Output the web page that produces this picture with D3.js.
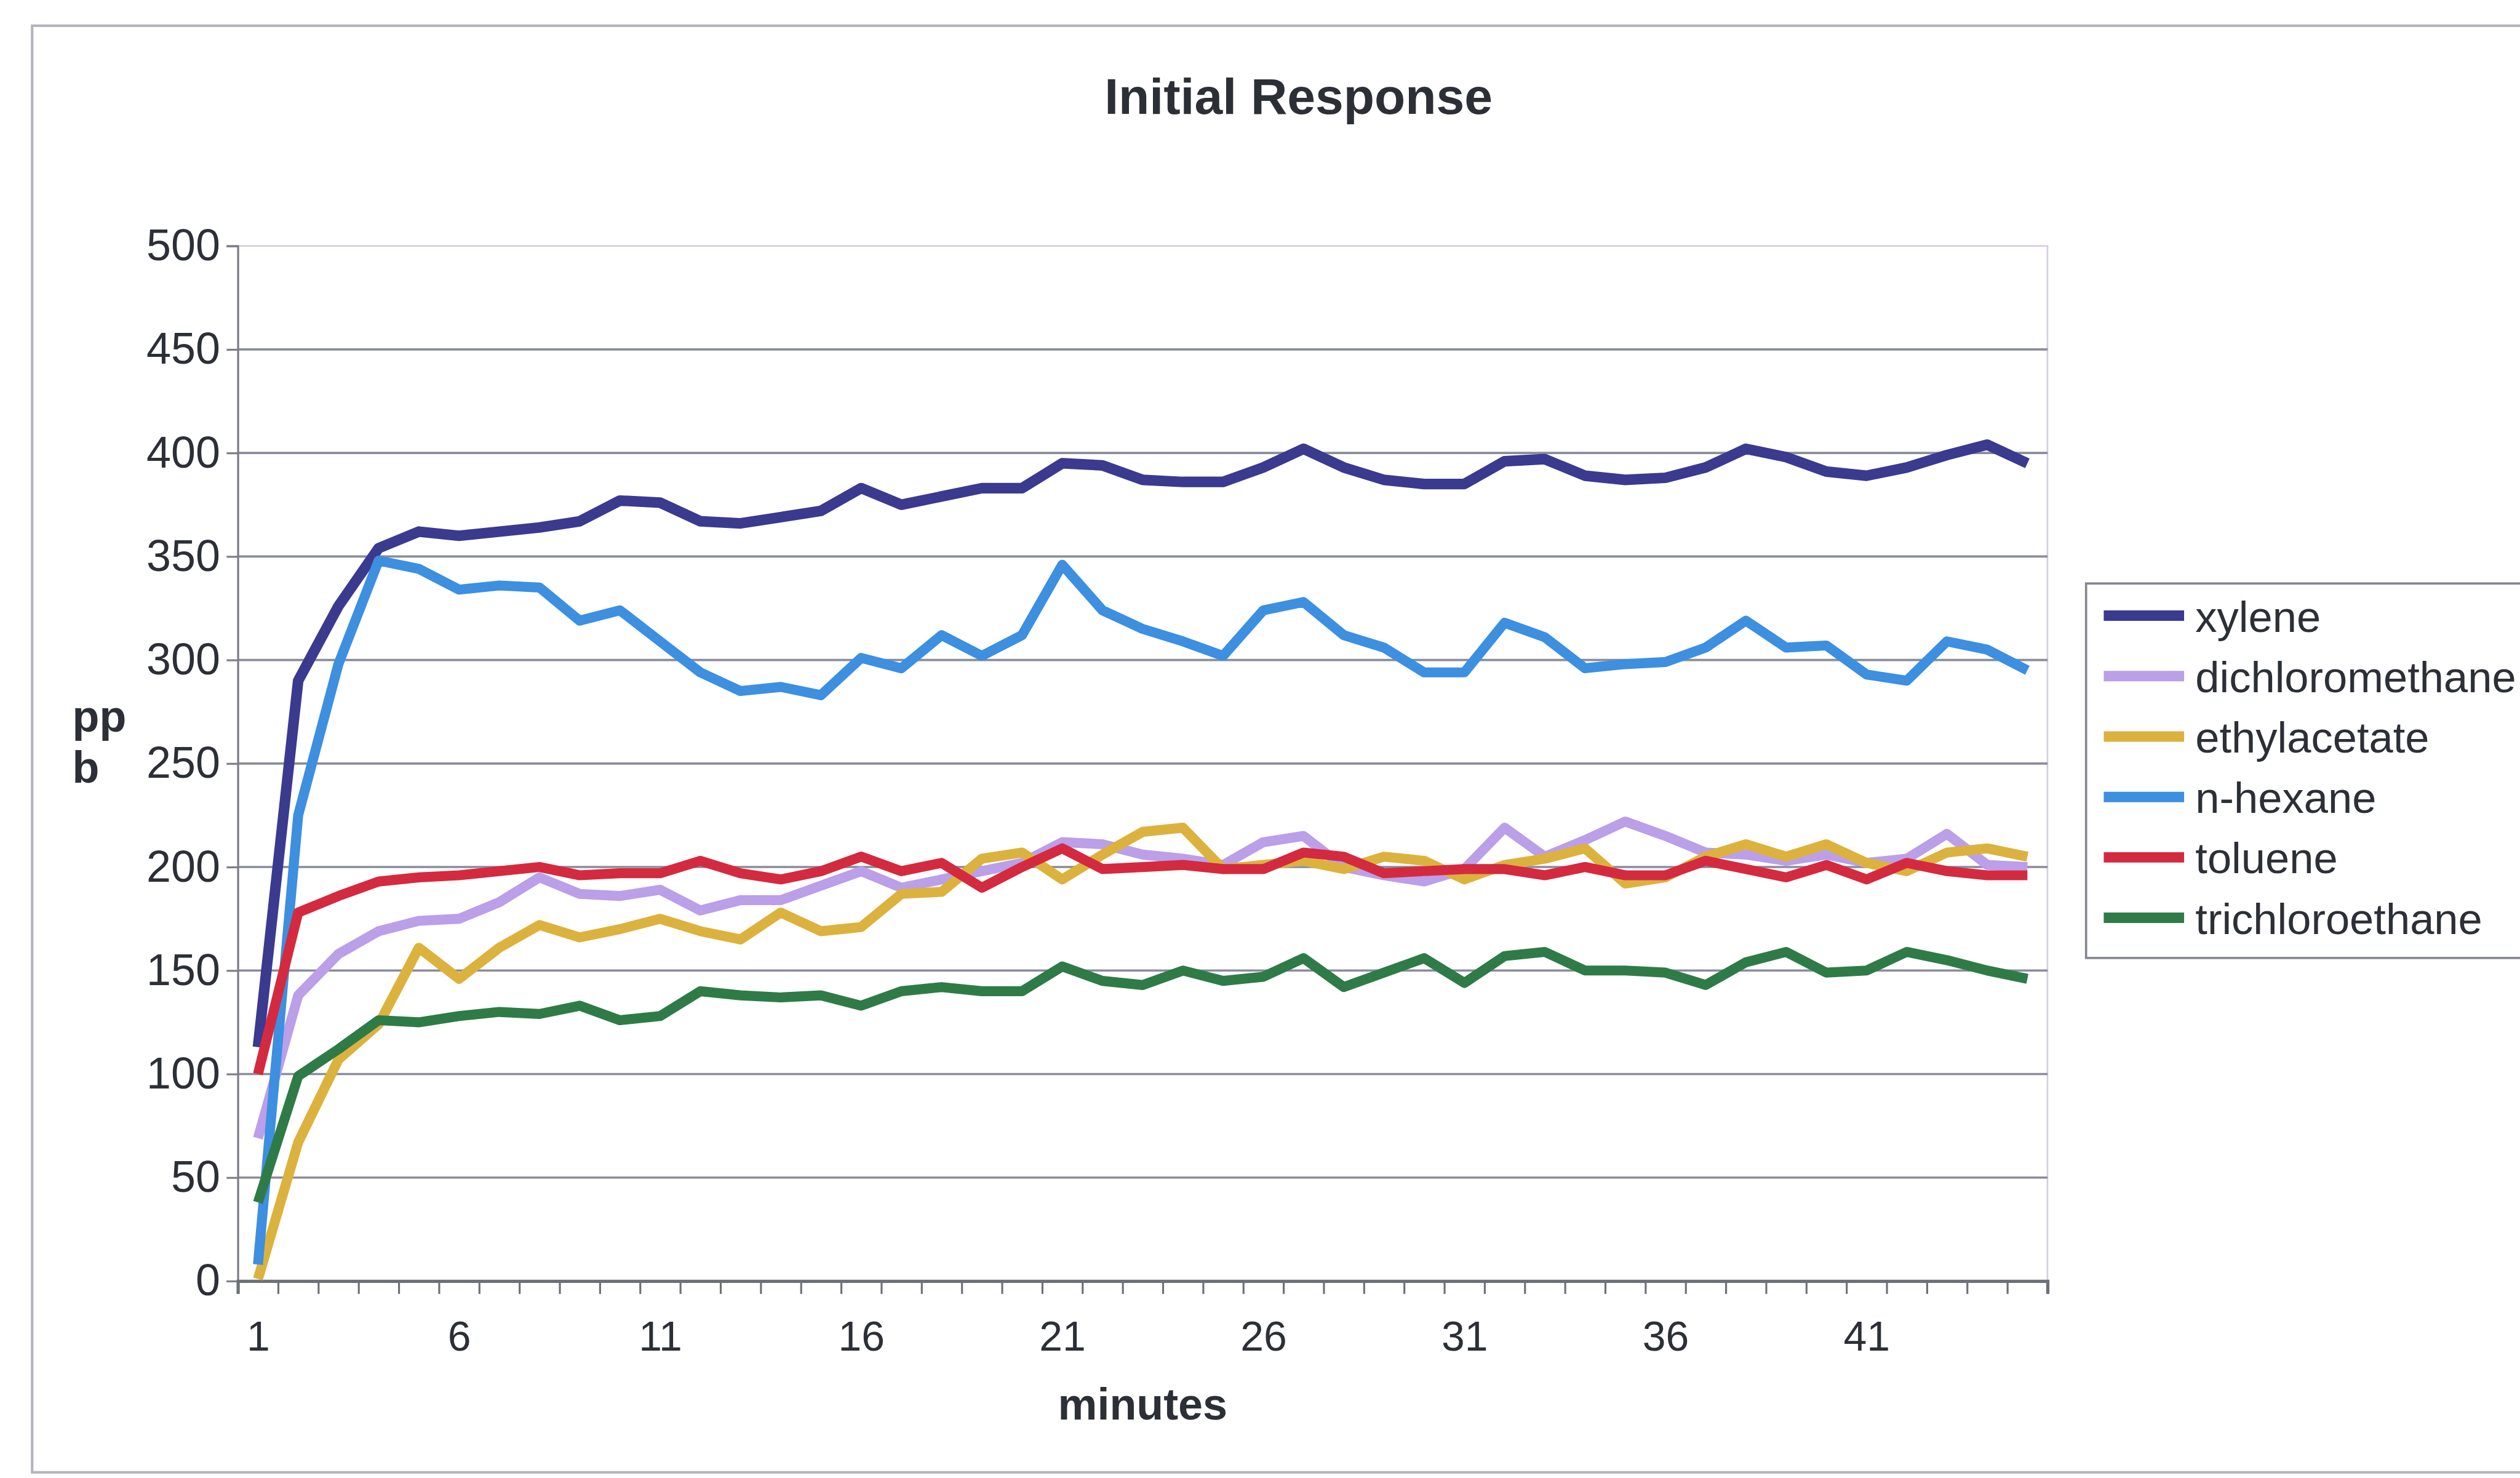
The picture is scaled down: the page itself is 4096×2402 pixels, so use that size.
<!DOCTYPE html>
<html>
<head>
<meta charset="utf-8">
<script src="https://cdn.jsdelivr.net/npm/d3@7"></script>
<style>
  html, body { margin: 0; padding: 0; background: #ffffff; }
  svg { display: block; }
  text { font-family: "Liberation Sans", Arial, sans-serif; fill: #2c3036; }
</style>
</head>
<body>
<svg id="chart" width="4096" height="2402"></svg>
<script>
// ---- data: ppb readings per minute (1..45) ----
const minutes = d3.range(1, 46);
const xTickLabels = [1, 6, 11, 16, 21, 26, 31, 36, 41];
const yTickValues = [0, 50, 100, 150, 200, 250, 300, 350, 400, 450, 500];
const seriesNames = ["xylene", "dichloromethane", "ethylacetate", "n-hexane", "toluene", "trichloroethane"];

const xylene = [113, 290, 326, 354, 362, 360, 362, 364, 367, 377, 376, 367, 366, 369, 372,
                383, 375, 379, 383, 383, 395, 394, 387, 386, 386, 393, 402, 393, 387, 385,
                385, 396, 397, 389, 387, 388, 393, 402, 398, 391, 389, 393, 399, 404, 395];
const dichloromethane = [69, 138, 158, 169, 174, 175, 183, 195, 187, 186, 189, 179, 184, 184, 191,
                         198, 190, 194, 198, 202, 212, 211, 206, 204, 201, 212, 215, 200, 196, 193,
                         199, 219, 205, 213, 222, 215, 207, 206, 203, 206, 202, 204, 216, 201, 200];
const ethylacetate = [1, 67, 107, 124, 161, 146, 161, 172, 166, 170, 175, 169, 165, 178, 169,
                      171, 187, 188, 204, 207, 194, 206, 217, 219, 199, 201, 203, 199, 205, 203,
                      194, 201, 204, 209, 192, 195, 205, 211, 205, 211, 202, 198, 207, 209, 205];
const nHexane = [8, 225, 298, 348, 344, 334, 336, 335, 319, 324, 309, 294, 285, 287, 283,
                 301, 296, 312, 302, 312, 346, 324, 315, 309, 302, 324, 328, 312, 306, 294,
                 294, 318, 311, 296, 298, 299, 306, 319, 306, 307, 293, 290, 309, 305, 295];
const toluene = [100, 178, 186, 193, 195, 196, 198, 200, 196, 197, 197, 203, 197, 194, 198,
                 205, 198, 202, 190, 200, 209, 199, 200, 201, 199, 199, 207, 205, 197, 198,
                 199, 199, 196, 200, 196, 196, 203, 199, 195, 201, 194, 202, 198, 196, 196];
const trichloroethane = [38, 99, 112, 126, 125, 128, 130, 129, 133, 126, 128, 140, 138, 137, 138,
                         133, 140, 142, 140, 140, 152, 145, 143, 150, 145, 147, 156, 142, 149, 156,
                         144, 157, 159, 150, 150, 149, 143, 154, 159, 149, 150, 159, 155, 150, 146];

const seriesValues = [xylene, dichloromethane, ethylacetate, nHexane, toluene, trichloroethane];
const seriesColors = ["#3a3a8f", "#bb9fe8", "#dcb23f", "#3d8fe0", "#d42a3f", "#2f7b47"];

// ---- layout (base units, scaled up by K) ----
const K = 4096 / 1568;
const plot = { left: 148 * K, right: 1274 * K, top: 153 * K, bottom: 797 * K };

const svg = d3.select("#chart");

// outer chart frame
svg.append("rect")
  .attr("x", 20 * K).attr("y", 16 * K)
  .attr("width", 1600 * K).attr("height", 900 * K)
  .attr("fill", "#ffffff")
  .attr("stroke", "#b4b4bc").attr("stroke-width", 1.6 * K);

// scales: categories sit between tick marks
const x = d3.scaleLinear().domain([0.5, 45.5]).range([plot.left, plot.right]);
const y = d3.scaleLinear().domain([0, 500]).range([plot.bottom, plot.top]);

// plot area border (top / right)
svg.append("rect")
  .attr("x", plot.left).attr("y", plot.top)
  .attr("width", plot.right - plot.left).attr("height", plot.bottom - plot.top)
  .attr("fill", "none").attr("stroke", "#d6cce0").attr("stroke-width", 1.0 * K);

// horizontal gridlines
svg.append("g")
  .selectAll("line")
  .data(yTickValues.filter(v => v > 0 && v < 500))
  .join("line")
  .attr("x1", plot.left).attr("x2", plot.right)
  .attr("y1", d => y(d)).attr("y2", d => y(d))
  .attr("stroke", "#8a8c9c").attr("stroke-width", 1.4 * K);

// y axis
const yAxis = svg.append("g")
  .attr("transform", `translate(${plot.left},0)`)
  .call(d3.axisLeft(y).tickValues(yTickValues).tickSize(7 * K).tickPadding(4 * K));
yAxis.select(".domain").attr("stroke", "#7c7e88").attr("stroke-width", 1.2 * K);
yAxis.selectAll(".tick line").attr("stroke", "#7c7e88").attr("stroke-width", 1.2 * K);
yAxis.selectAll(".tick text")
  .attr("font-size", 27.5 * K).attr("fill", "#2c3036")
  .style("font-family", "'Liberation Sans', Arial, sans-serif");

// x axis: tick marks on category boundaries
const boundaries = d3.range(0, 46).map(i => i + 0.5);
const xAxis = svg.append("g")
  .attr("transform", `translate(0,${plot.bottom})`)
  .call(d3.axisBottom(x).tickValues(boundaries).tickSize(8 * K).tickFormat(""));
xAxis.select(".domain").attr("stroke", "#6e7078").attr("stroke-width", 2 * K);
xAxis.selectAll(".tick line").attr("stroke", "#6e7078").attr("stroke-width", 1.2 * K);

// x axis labels every fifth minute
const xLabels = svg.append("g")
  .attr("transform", `translate(0,${plot.bottom})`)
  .call(d3.axisBottom(x).tickValues(xTickLabels).tickSize(0).tickPadding(25 * K).tickFormat(d3.format("d")));
xLabels.select(".domain").remove();
xLabels.selectAll(".tick text")
  .attr("font-size", 26 * K).attr("fill", "#2c3036")
  .style("font-family", "'Liberation Sans', Arial, sans-serif");

// series lines
const line = d3.line()
  .x((d, i) => x(minutes[i]))
  .y(d => y(d));

svg.append("g")
  .selectAll("path")
  .data(seriesValues)
  .join("path")
  .attr("d", d => line(d))
  .attr("fill", "none")
  .attr("stroke", (d, i) => seriesColors[i])
  .attr("stroke-width", (d, i) => (i === 0 ? 6.6 : 6.2) * K)
  .attr("stroke-linejoin", "round")
  .attr("stroke-linecap", "butt");

// title
svg.append("text")
  .attr("x", 808 * K).attr("y", 71 * K)
  .attr("text-anchor", "middle")
  .attr("font-size", 31.5 * K).attr("font-weight", "bold")
  .text("Initial Response");

// axis titles
svg.append("text")
  .attr("x", (plot.left + plot.right) / 2).attr("y", 883 * K)
  .attr("text-anchor", "middle")
  .attr("font-size", 27.5 * K).attr("font-weight", "bold")
  .text("minutes");

const yTitle = svg.append("text")
  .attr("x", 45 * K).attr("y", 455 * K)
  .attr("font-size", 27.5 * K).attr("font-weight", "bold");
yTitle.append("tspan").attr("x", 45 * K).attr("y", 455 * K).text("pp");
yTitle.append("tspan").attr("x", 45 * K).attr("y", 487 * K).text("b");

// legend
const legend = svg.append("g");
legend.append("rect")
  .attr("x", 1298 * K).attr("y", 363 * K)
  .attr("width", 320 * K).attr("height", 233 * K)
  .attr("fill", "#ffffff").attr("stroke", "#85878f").attr("stroke-width", 1.4 * K);

const rowY = i => (383 + i * 37.6) * K;
const rows = legend.selectAll("g.item")
  .data(seriesNames)
  .join("g")
  .attr("class", "item");
rows.append("line")
  .attr("x1", 1309 * K).attr("x2", 1359 * K)
  .attr("y1", (d, i) => rowY(i)).attr("y2", (d, i) => rowY(i))
  .attr("stroke", (d, i) => seriesColors[i])
  .attr("stroke-width", 6.5 * K);
rows.append("text")
  .attr("x", 1366 * K)
  .attr("y", (d, i) => rowY(i) + 10 * K)
  .attr("font-size", 27 * K)
  .text(d => d);
</script>
</body>
</html>
